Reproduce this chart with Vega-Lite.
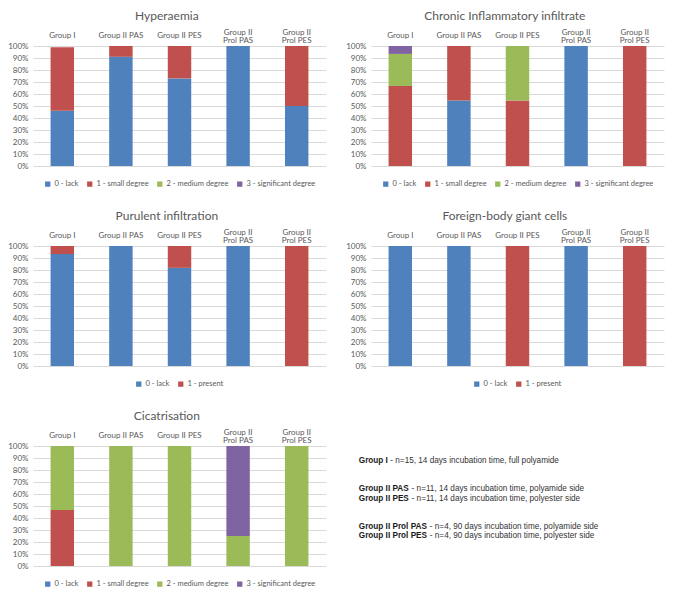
{
  "$schema": "https://vega.github.io/schema/vega-lite/v6.json",
  "background": "white",
  "padding": {"left": 7, "top": 10, "right": 4, "bottom": 4},
  "datasets": {
    "bars": [
      {"chart": "Hyperaemia", "group": "Group I", "cat": "0 - lack", "v": 0.46},
      {"chart": "Hyperaemia", "group": "Group I", "cat": "1 - small degree", "v": 0.53},
      {"chart": "Hyperaemia", "group": "Group II PAS", "cat": "0 - lack", "v": 0.91},
      {"chart": "Hyperaemia", "group": "Group II PAS", "cat": "1 - small degree", "v": 0.09},
      {"chart": "Hyperaemia", "group": "Group II PES", "cat": "0 - lack", "v": 0.73},
      {"chart": "Hyperaemia", "group": "Group II PES", "cat": "1 - small degree", "v": 0.27},
      {"chart": "Hyperaemia", "group": "Group II Prol PAS", "cat": "0 - lack", "v": 1.0},
      {"chart": "Hyperaemia", "group": "Group II Prol PES", "cat": "0 - lack", "v": 0.5},
      {"chart": "Hyperaemia", "group": "Group II Prol PES", "cat": "1 - small degree", "v": 0.5},

      {"chart": "Chronic", "group": "Group I", "cat": "1 - small degree", "v": 0.667},
      {"chart": "Chronic", "group": "Group I", "cat": "2 - medium degree", "v": 0.267},
      {"chart": "Chronic", "group": "Group I", "cat": "3 - significant degree", "v": 0.066},
      {"chart": "Chronic", "group": "Group II PAS", "cat": "0 - lack", "v": 0.545},
      {"chart": "Chronic", "group": "Group II PAS", "cat": "1 - small degree", "v": 0.455},
      {"chart": "Chronic", "group": "Group II PES", "cat": "1 - small degree", "v": 0.545},
      {"chart": "Chronic", "group": "Group II PES", "cat": "2 - medium degree", "v": 0.455},
      {"chart": "Chronic", "group": "Group II Prol PAS", "cat": "0 - lack", "v": 1.0},
      {"chart": "Chronic", "group": "Group II Prol PES", "cat": "1 - small degree", "v": 1.0},

      {"chart": "Purulent", "group": "Group I", "cat": "0 - lack", "v": 0.933},
      {"chart": "Purulent", "group": "Group I", "cat": "1 - present", "v": 0.067},
      {"chart": "Purulent", "group": "Group II PAS", "cat": "0 - lack", "v": 1.0},
      {"chart": "Purulent", "group": "Group II PES", "cat": "0 - lack", "v": 0.818},
      {"chart": "Purulent", "group": "Group II PES", "cat": "1 - present", "v": 0.182},
      {"chart": "Purulent", "group": "Group II Prol PAS", "cat": "0 - lack", "v": 1.0},
      {"chart": "Purulent", "group": "Group II Prol PES", "cat": "1 - present", "v": 1.0},

      {"chart": "Foreign", "group": "Group I", "cat": "0 - lack", "v": 1.0},
      {"chart": "Foreign", "group": "Group II PAS", "cat": "0 - lack", "v": 1.0},
      {"chart": "Foreign", "group": "Group II PES", "cat": "1 - present", "v": 1.0},
      {"chart": "Foreign", "group": "Group II Prol PAS", "cat": "0 - lack", "v": 1.0},
      {"chart": "Foreign", "group": "Group II Prol PES", "cat": "1 - present", "v": 1.0},

      {"chart": "Cicatrisation", "group": "Group I", "cat": "1 - small degree", "v": 0.467},
      {"chart": "Cicatrisation", "group": "Group I", "cat": "2 - medium degree", "v": 0.533},
      {"chart": "Cicatrisation", "group": "Group II PAS", "cat": "2 - medium degree", "v": 1.0},
      {"chart": "Cicatrisation", "group": "Group II PES", "cat": "2 - medium degree", "v": 1.0},
      {"chart": "Cicatrisation", "group": "Group II Prol PAS", "cat": "2 - medium degree", "v": 0.25},
      {"chart": "Cicatrisation", "group": "Group II Prol PAS", "cat": "3 - significant degree", "v": 0.75},
      {"chart": "Cicatrisation", "group": "Group II Prol PES", "cat": "2 - medium degree", "v": 1.0}
    ],
    "notes": [
      {"label": "Group I", "rest": "- n=15, 14 days incubation time, full polyamide", "line": 0},
      {"label": "Group II PAS", "rest": "- n=11, 14 days incubation time, polyamide side", "line": 3},
      {"label": "Group II PES", "rest": "- n=11, 14 days incubation time, polyester side", "line": 4},
      {"label": "Group II Prol PAS", "rest": "- n=4, 90 days incubation time, polyamide side", "line": 7},
      {"label": "Group II Prol PES", "rest": "- n=4, 90 days incubation time, polyester side", "line": 8}
    ]
  },
  "columns": 2,
  "spacing": {"row": 22, "column": 19},
  "resolve": {"scale": {"color": "independent", "x": "independent", "y": "independent"}, "legend": {"color": "independent"}},
  "concat": [
    {
      "title": "Hyperaemia",
      "width": 293, "height": 120,
      "data": {"name": "bars"},
      "transform": [{"filter": "datum.chart == 'Hyperaemia'"}],
      "mark": "bar",
      "encoding": {
        "x": {"field": "group", "type": "nominal", "sort": ["Group I", "Group II PAS", "Group II PES", "Group II Prol PAS", "Group II Prol PES"], "scale": {"paddingInner": 0.6, "paddingOuter": 0.3}, "axis": {"orient": "top", "title": null, "labelPadding": {"condition": {"test": "indexof(datum.value, 'Prol') > 0", "value": 14}, "value": 11}, "labelExpr": "indexof(datum.value, 'Prol') > 0 ? ['Group II', replace(datum.value, 'Group II ', '')] : datum.value"}},
        "y": {"field": "v", "type": "quantitative", "stack": "zero", "scale": {"domain": [0, 1]}, "axis": {"title": null, "format": "%", "values": [0, 0.1, 0.2, 0.3, 0.4, 0.5, 0.6, 0.7, 0.8, 0.9, 1]}},
        "color": {"field": "cat", "type": "nominal", "scale": {"domain": ["0 - lack", "1 - small degree", "2 - medium degree", "3 - significant degree"], "range": ["#4f81bd", "#c0504d", "#9bbb59", "#8064a2"]}, "legend": {"title": null}},
        "order": {"field": "cat", "sort": "ascending"}
      }
    },
    {
      "title": "Chronic Inflammatory infiltrate",
      "width": 293, "height": 120,
      "data": {"name": "bars"},
      "transform": [{"filter": "datum.chart == 'Chronic'"}],
      "mark": "bar",
      "encoding": {
        "x": {"field": "group", "type": "nominal", "sort": ["Group I", "Group II PAS", "Group II PES", "Group II Prol PAS", "Group II Prol PES"], "scale": {"paddingInner": 0.6, "paddingOuter": 0.3}, "axis": {"orient": "top", "title": null, "labelPadding": {"condition": {"test": "indexof(datum.value, 'Prol') > 0", "value": 14}, "value": 11}, "labelExpr": "indexof(datum.value, 'Prol') > 0 ? ['Group II', replace(datum.value, 'Group II ', '')] : datum.value"}},
        "y": {"field": "v", "type": "quantitative", "stack": "zero", "scale": {"domain": [0, 1]}, "axis": {"title": null, "format": "%", "values": [0, 0.1, 0.2, 0.3, 0.4, 0.5, 0.6, 0.7, 0.8, 0.9, 1]}},
        "color": {"field": "cat", "type": "nominal", "scale": {"domain": ["0 - lack", "1 - small degree", "2 - medium degree", "3 - significant degree"], "range": ["#4f81bd", "#c0504d", "#9bbb59", "#8064a2"]}, "legend": {"title": null}},
        "order": {"field": "cat", "sort": "ascending"}
      }
    },
    {
      "title": "Purulent infiltration",
      "width": 293, "height": 120,
      "data": {"name": "bars"},
      "transform": [{"filter": "datum.chart == 'Purulent'"}],
      "mark": "bar",
      "encoding": {
        "x": {"field": "group", "type": "nominal", "sort": ["Group I", "Group II PAS", "Group II PES", "Group II Prol PAS", "Group II Prol PES"], "scale": {"paddingInner": 0.6, "paddingOuter": 0.3}, "axis": {"orient": "top", "title": null, "labelPadding": {"condition": {"test": "indexof(datum.value, 'Prol') > 0", "value": 14}, "value": 11}, "labelExpr": "indexof(datum.value, 'Prol') > 0 ? ['Group II', replace(datum.value, 'Group II ', '')] : datum.value"}},
        "y": {"field": "v", "type": "quantitative", "stack": "zero", "scale": {"domain": [0, 1]}, "axis": {"title": null, "format": "%", "values": [0, 0.1, 0.2, 0.3, 0.4, 0.5, 0.6, 0.7, 0.8, 0.9, 1]}},
        "color": {"field": "cat", "type": "nominal", "scale": {"domain": ["0 - lack", "1 - present"], "range": ["#4f81bd", "#c0504d"]}, "legend": {"title": null}},
        "order": {"field": "cat", "sort": "ascending"}
      }
    },
    {
      "title": "Foreign-body giant cells",
      "width": 293, "height": 120,
      "data": {"name": "bars"},
      "transform": [{"filter": "datum.chart == 'Foreign'"}],
      "mark": "bar",
      "encoding": {
        "x": {"field": "group", "type": "nominal", "sort": ["Group I", "Group II PAS", "Group II PES", "Group II Prol PAS", "Group II Prol PES"], "scale": {"paddingInner": 0.6, "paddingOuter": 0.3}, "axis": {"orient": "top", "title": null, "labelPadding": {"condition": {"test": "indexof(datum.value, 'Prol') > 0", "value": 14}, "value": 11}, "labelExpr": "indexof(datum.value, 'Prol') > 0 ? ['Group II', replace(datum.value, 'Group II ', '')] : datum.value"}},
        "y": {"field": "v", "type": "quantitative", "stack": "zero", "scale": {"domain": [0, 1]}, "axis": {"title": null, "format": "%", "values": [0, 0.1, 0.2, 0.3, 0.4, 0.5, 0.6, 0.7, 0.8, 0.9, 1]}},
        "color": {"field": "cat", "type": "nominal", "scale": {"domain": ["0 - lack", "1 - present"], "range": ["#4f81bd", "#c0504d"]}, "legend": {"title": null}},
        "order": {"field": "cat", "sort": "ascending"}
      }
    },
    {
      "title": "Cicatrisation",
      "width": 293, "height": 120,
      "data": {"name": "bars"},
      "transform": [{"filter": "datum.chart == 'Cicatrisation'"}],
      "mark": "bar",
      "encoding": {
        "x": {"field": "group", "type": "nominal", "sort": ["Group I", "Group II PAS", "Group II PES", "Group II Prol PAS", "Group II Prol PES"], "scale": {"paddingInner": 0.6, "paddingOuter": 0.3}, "axis": {"orient": "top", "title": null, "labelPadding": {"condition": {"test": "indexof(datum.value, 'Prol') > 0", "value": 14}, "value": 11}, "labelExpr": "indexof(datum.value, 'Prol') > 0 ? ['Group II', replace(datum.value, 'Group II ', '')] : datum.value"}},
        "y": {"field": "v", "type": "quantitative", "stack": "zero", "scale": {"domain": [0, 1]}, "axis": {"title": null, "format": "%", "values": [0, 0.1, 0.2, 0.3, 0.4, 0.5, 0.6, 0.7, 0.8, 0.9, 1]}},
        "color": {"field": "cat", "type": "nominal", "scale": {"domain": ["0 - lack", "1 - small degree", "2 - medium degree", "3 - significant degree"], "range": ["#4f81bd", "#c0504d", "#9bbb59", "#8064a2"]}, "legend": {"title": null}},
        "order": {"field": "cat", "sort": "ascending"}
      }
    },
    {
      "width": 293, "height": 170,
      "data": {"name": "notes"},
      "encoding": {
        "x": {"datum": 0, "type": "quantitative", "scale": {"domain": [0.04, 1], "nice": false, "zero": false}, "axis": null},
        "y": {"field": "line", "type": "quantitative", "scale": {"domain": [-1.6, 16.53], "reverse": true, "nice": false, "zero": false}, "axis": null}
      },
      "layer": [
        {"mark": {"type": "text", "align": "left", "baseline": "middle", "font": "Liberation Sans", "fontSize": 8.2, "fontWeight": "bold", "color": "#1a1a1a"},
         "encoding": {"text": {"field": "label"}}},
        {"transform": [{"filter": "datum.label == 'Group I'"}],
         "mark": {"type": "text", "align": "left", "baseline": "middle", "font": "Liberation Sans", "fontSize": 8.2, "color": "#333333", "dx": 31.5},
         "encoding": {"text": {"field": "rest"}}},
        {"transform": [{"filter": "datum.label != 'Group I' && indexof(datum.label, 'Prol') < 0"}],
         "mark": {"type": "text", "align": "left", "baseline": "middle", "font": "Liberation Sans", "fontSize": 8.2, "color": "#333333", "dx": 52.8},
         "encoding": {"text": {"field": "rest"}}},
        {"transform": [{"filter": "indexof(datum.label, 'Prol') >= 0"}],
         "mark": {"type": "text", "align": "left", "baseline": "middle", "font": "Liberation Sans", "fontSize": 8.2, "color": "#333333", "dx": 71},
         "encoding": {"text": {"field": "rest"}}}
      ]
    }
  ],
  "config": {
    "view": {"stroke": null},
    "axis": {"labelFont": "Lato", "labelFontSize": 8, "labelColor": "#595959", "ticks": false, "domain": false, "gridColor": "#d9d9d9", "gridWidth": 1},
    "axisX": {"grid": false, "labelAngle": 0, "labelBaseline": "middle", "labelLineHeight": 8.5},
    "axisY": {"labelPadding": 5},
    "title": {"font": "Lato", "fontSize": 12, "fontWeight": "normal", "color": "#595959", "frame": "bounds", "offset": 5},
    "legend": {"orient": "bottom", "direction": "horizontal", "labelFont": "Lato", "labelFontSize": 7.5, "labelColor": "#595959", "symbolType": "square", "symbolSize": 28, "symbolStrokeWidth": 0, "columnPadding": 7, "labelOffset": 3, "offset": 14, "layout": {"bottom": {"anchor": "middle", "bounds": "full"}}}
  }
}
